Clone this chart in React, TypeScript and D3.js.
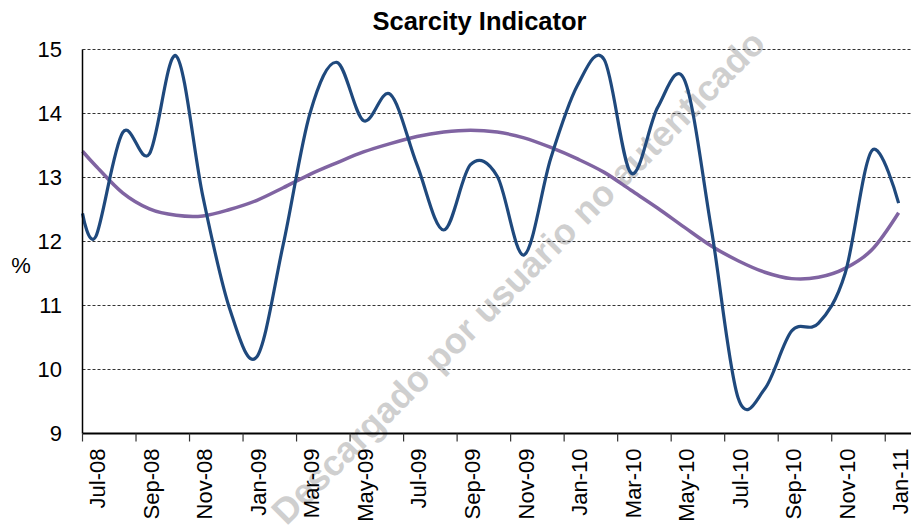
import { useEffect } from 'react'
import * as d3 from 'd3'

// month categories, Jul-08 .. Jan-11
const months = [
  'Jul-08', 'Aug-08', 'Sep-08', 'Oct-08', 'Nov-08', 'Dec-08',
  'Jan-09', 'Feb-09', 'Mar-09', 'Apr-09', 'May-09', 'Jun-09',
  'Jul-09', 'Aug-09', 'Sep-09', 'Oct-09', 'Nov-09', 'Dec-09',
  'Jan-10', 'Feb-10', 'Mar-10', 'Apr-10', 'May-10', 'Jun-10',
  'Jul-10', 'Aug-10', 'Sep-10', 'Oct-10', 'Nov-10', 'Dec-10',
  'Jan-11'
]

// value at the left edge of the plot (the lines start on the axis)
const leadIndicator = 12.44
const leadTrend = 13.41

const indicator = [
  12.08, 13.7, 13.37, 14.9, 12.7, 10.95,
  10.19, 11.95, 14.0, 14.8, 13.89, 14.3,
  13.2, 12.18, 13.2, 13.02, 11.79, 13.3,
  14.44, 14.84, 13.07, 14.1, 14.52, 12.2,
  9.56, 9.7, 10.6, 10.72, 11.5, 13.42,
  12.6
]

const trend = [
  13.18, 12.76, 12.51, 12.41, 12.4, 12.5,
  12.64, 12.84, 13.05, 13.23, 13.4, 13.53,
  13.64, 13.71, 13.74, 13.71, 13.62, 13.47,
  13.29, 13.08, 12.8, 12.52, 12.22, 11.93,
  11.7, 11.52, 11.42, 11.44, 11.58, 11.87,
  12.45
]

const yTicks = [9, 10, 11, 12, 13, 14, 15]
const gridValues = [10, 11, 12, 13, 14, 15]

const W = 911, H = 527
const m = { top: 49.5, right: -1, bottom: 93.5, left: 82.5 }
const FONT = 'Arial, "Liberation Sans", sans-serif'

export default function App() {
  useEffect(() => {
    document.body.style.margin = '0'
  }, [])

  // index -0.5 is the left edge, 30.5 the right edge (just off the picture)
  const x = d3.scaleLinear().domain([-0.5, months.length - 0.5]).range([m.left, W - m.right])
  const y = d3.scaleLinear().domain([9, 15]).range([H - m.bottom, m.top])

  const series = (lead: number, vals: number[]) =>
    [{ i: -0.5, v: lead }, ...vals.map((v, i) => ({ i, v }))]

  const line = d3.line<{ i: number; v: number }>()
    .x(d => x(d.i)).y(d => y(d.v))
    .curve(d3.curveCatmullRom.alpha(0))

  const baseY = y(9)
  const tickIdx = d3.range(-0.5, months.length - 0.5, 2)
  const labelIdx = d3.range(0, months.length, 2)

  return (
    <svg width={W} height={H} style={{ display: 'block', background: '#fff' }} fontFamily={FONT}>
      {/* watermark */}
      <text
        transform="translate(518,277) rotate(-45)"
        textAnchor="middle" dy="0.35em"
        fontSize={36} fontWeight="bold" fill="#cfcfcf"
      >Descargado por usuario no autenticado</text>

      <text x={479.5} y={30} textAnchor="middle" fontSize={25.5} fontWeight="bold" fill="#000">
        Scarcity Indicator
      </text>

      {gridValues.map(v => (
        <line key={v} x1={m.left} x2={W} y1={y(v)} y2={y(v)}
          stroke="#333" strokeWidth={1} strokeDasharray="3,2" />
      ))}

      {yTicks.map(v => (
        <text key={v} x={62} y={y(v)} dy="0.36em" textAnchor="end" fontSize={22} fill="#000">{v}</text>
      ))}
      <text x={21} y={265} textAnchor="middle" dy="0.35em" fontSize={22} fill="#000">%</text>

      <path d={line(series(leadTrend, trend)) ?? ''} fill="none" stroke="#8064A2" strokeWidth={3.5} />
      <path d={line(series(leadIndicator, indicator)) ?? ''} fill="none" stroke="#1F497D" strokeWidth={3.2} />

      <line x1={m.left} x2={m.left} y1={m.top} y2={baseY} stroke="#000" strokeWidth={1.5} />
      <line x1={m.left} x2={W} y1={baseY} y2={baseY} stroke="#000" strokeWidth={2} />
      {tickIdx.map(i => (
        <line key={i} x1={x(i)} x2={x(i)} y1={baseY} y2={baseY + 8} stroke="#333" strokeWidth={1.2} />
      ))}
      {labelIdx.map(i => (
        <text key={i} transform={`translate(${x(i) + 9.5},${baseY + 15}) rotate(-90)`}
          textAnchor="end" fontSize={22} fill="#000">{months[i]}</text>
      ))}
    </svg>
  )
}
